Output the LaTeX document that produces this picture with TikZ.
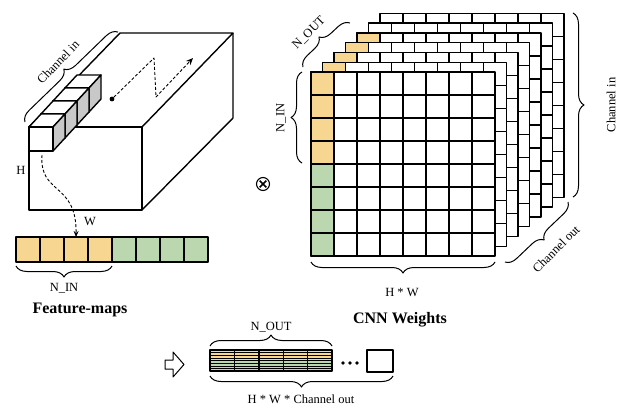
\documentclass[tikz,border=0pt]{standalone}
\usepackage{fontspec}
\setmainfont{Liberation Serif}
\usetikzlibrary{arrows.meta,decorations.pathreplacing}
\definecolor{fmyellow}{RGB}{246,214,145}
\definecolor{fmgreen}{RGB}{186,215,176}
\definecolor{cubegray}{RGB}{200,200,200}

\begin{document}
\begin{tikzpicture}[x=1pt,y=-1pt,line join=round]
\tikzstyle{edge}=[line width=1.4pt]
\tikzstyle{cell}=[draw,line width=1.4pt,fill=white]
\tikzstyle{fmcell}=[draw,line width=1.4pt,minimum width=24pt,minimum height=25pt,inner sep=0,outer sep=0]
\tikzstyle{brc}=[decorate,decoration={brace,amplitude=11pt},line width=1pt]
\tikzstyle{lbl}=[font=\fontsize{12.5}{14}\selectfont,inner sep=1pt]
\tikzstyle{title}=[font=\fontsize{16}{18}\selectfont\bfseries,inner sep=1pt]
\tikzstyle{flow}=[dash pattern=on 3pt off 2pt,line width=0.9pt]
\useasboundingbox (0,0) rectangle (624,413);

% input volume
\draw[edge,fill=white] (29,127) rectangle (142,210);
\draw[edge] (29,127) -- (120,33) -- (233,33) -- (142,127);
\draw[edge] (233,33) -- (233,118) -- (142,210);

% kernel cubes
\foreach \k in {3,2,1,0} {
  \draw[edge,fill=white] ({29+12*\k},{127-13*\k}) -- ++(24,0) -- ++(12,-13) -- ++(-24,0) -- cycle;
  \draw[edge,fill=cubegray] ({53+12*\k},{127-13*\k}) -- ++(12,-13) -- ++(0,24) -- ++(-12,13) -- cycle;
  \draw[edge,fill=white] ({29+12*\k},{127-13*\k}) rectangle ++(24,24);
}

% sliding path
\node[circle,fill,inner sep=1.7pt] (dot) at (112,99) {};
\coordinate (s1) at (154,58);
\coordinate (s2) at (156,97);
\coordinate (s3) at (193,58);
\draw[flow,-{Stealth[length=7pt,width=6pt]}] (dot) -- (s1) -- (s2) -- (s3);

\draw[brc] (25,122) -- (118,32);
\node[lbl,rotate=46] (lblCin) at (58,62) {Channel in};
\node[lbl] (lblH) at (21,170) {H};
\node[lbl] (lblW) at (90,221) {W};

% feature maps
\foreach \i in {0,...,3} \node[fmcell,fill=fmyellow] (fm\i) at ({28+24*\i},249.5) {};
\foreach \i in {4,...,7} \node[fmcell,fill=fmgreen] (fm\i) at ({28+24*\i},249.5) {};
\coordinate (cstart) at (42,155);
\draw[flow,-{Stealth[length=6pt,width=5pt]}] (cstart) .. controls (39,195) and (77,182) .. (fm2.north);
\draw[brc] (112,266) -- (16,266);
\node[lbl] (lblNin) at (64,288) {N\_IN};
\node[title] (tFm) at (80,310) {Feature-maps};

% multiply
\node[circle,draw,line width=1.1pt,minimum size=13pt,inner sep=0] (mult) at (263,184) {};
\draw[line width=1.7pt] ([shift={(-3.3,-3.3)}]mult.center) -- ([shift={(3.3,3.3)}]mult.center);
\draw[line width=1.7pt] ([shift={(-3.3,3.3)}]mult.center) -- ([shift={(3.3,-3.3)}]mult.center);

% CNN weights, back to front
\foreach \k in {6,5,...,0} {
  \foreach \r in {0,...,7} \foreach \c in {0,...,7}
    \draw[cell] ({311+11.5*\k+23*\c},{72-9.8*\k+23*\r}) rectangle ++(23,23);
  \ifnum\k<5
    \foreach \r in {0,...,3} \draw[cell,fill=fmyellow] ({311+11.5*\k},{72-9.8*\k+23*\r}) rectangle ++(23,23);
    \foreach \r in {4,...,7} \draw[cell,fill=fmgreen] ({311+11.5*\k},{72-9.8*\k+23*\r}) rectangle ++(23,23);
  \fi
}
\draw[brc] (303,67) -- (350,23);
\node[lbl,rotate=45] (lblNout) at (309,33) {N\_OUT};
\draw[brc] (302,163) -- (302,72);
\node[lbl,rotate=90] (lblNin2) at (281,118) {N\_IN};
\draw[brc] (495,262) -- (311,262);
\node[lbl] (lblHW) at (402,292) {H * W};
\draw[brc] (573,13) -- (573,197);
\node[lbl,rotate=90] (lblCin2) at (611,105) {Channel in};
\draw[brc] (568,202) -- (505,262);
\node[lbl,rotate=45] (lblCout) at (556,249) {Channel out};
\node[title] (tCnn) at (400,320) {CNN Weights};

% reshaped weights
\draw[line width=1pt,fill=white] (165,360) -- (173,360) -- (173,352) -- (184,364.5) -- (173,377) -- (173,369) -- (165,369) -- cycle;
\fill[fmyellow] (210,350) rectangle (332,360.5);
\fill[fmgreen] (210,360.5) rectangle (332,371);
\foreach \s in {1,...,7} \draw[line width=0.4pt] (210,{350+2.625*\s}) -- (332,{350+2.625*\s});
\foreach \c in {0,...,4} \draw[edge] ({210+24.4*\c},350) rectangle ++(24.4,21);
\foreach \d in {0,1,2} \fill ({343+7*\d},363) circle (1.8pt);
\draw[edge,fill=white] (367,350) rectangle (393,372);
\draw[brc] (210,346) -- (332,346);
\node[lbl] (lblNout2) at (271,327) {N\_OUT};
\draw[brc] (393,376) -- (210,376);
\node[lbl] (lblHWC) at (301,399) {H * W * Channel out};
\end{tikzpicture}
\end{document}
